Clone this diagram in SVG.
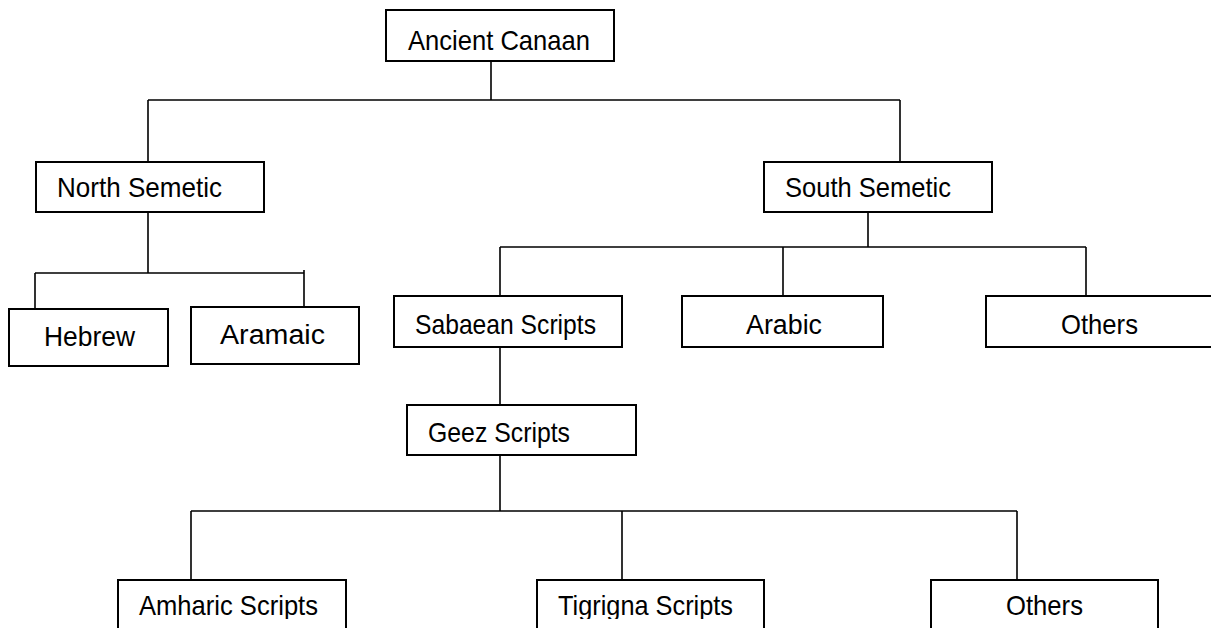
<svg xmlns="http://www.w3.org/2000/svg" width="1211" height="628" viewBox="0 0 1211 628">
  <style>
    .box { fill: #ffffff; stroke: #000000; stroke-width: 2; }
    .lbl { font-family: "Liberation Sans", Arial, sans-serif; font-size: 28px; fill: #000000; }
    .wide { font-size: 27px; }
    .conn { fill: none; stroke: #000000; stroke-width: 1.6; }
  </style>
  <defs>
    <clipPath id="clipBottom">
      <rect x="0" y="0" width="1211" height="619"/>
    </clipPath>
  </defs>
  <rect width="1211" height="628" fill="#ffffff"/>

  <!-- tree connectors -->
  <g id="connectors">
    <path class="conn" d="M491 61 V100 M148 100 H900 M148 100 V162 M900 100 V162"/>
    <path class="conn" d="M148 212 V273 M35 273 H304 M35 273 V309 M304 270 V307"/>
    <path class="conn" d="M868 212 V247 M500 247 H1086 M500 247 V296 M783 247 V296 M1086 247 V296"/>
    <path class="conn" d="M500 347 V405"/>
    <path class="conn" d="M500 455 V511 M191 511 H1017 M191 511 V580 M622 511 V580 M1017 511 V580"/>
  </g>

  <g id="ancient-canaan">
    <rect class="box" x="386" y="10" width="228" height="51"/>
    <text class="lbl" x="408" y="50" textLength="182" lengthAdjust="spacingAndGlyphs">Ancient Canaan</text>
  </g>

  <g id="north-semetic">
    <rect class="box" x="36" y="162" width="228" height="50"/>
    <text class="lbl" x="57" y="197" textLength="165" lengthAdjust="spacingAndGlyphs">North Semetic</text>
  </g>

  <g id="south-semetic">
    <rect class="box" x="764" y="162" width="228" height="50"/>
    <text class="lbl" x="785" y="197" textLength="166" lengthAdjust="spacingAndGlyphs">South Semetic</text>
  </g>

  <g id="hebrew">
    <rect class="box" x="9" y="309" width="159" height="57"/>
    <text class="lbl wide" x="44" y="346" textLength="91" lengthAdjust="spacingAndGlyphs">Hebrew</text>
  </g>

  <g id="aramaic">
    <rect class="box" x="191" y="307" width="168" height="57"/>
    <text class="lbl wide" x="220" y="344" textLength="105" lengthAdjust="spacingAndGlyphs">Aramaic</text>
  </g>

  <g id="sabaean-scripts">
    <rect class="box" x="394" y="296" width="228" height="51"/>
    <text class="lbl" x="415" y="334" textLength="181" lengthAdjust="spacingAndGlyphs">Sabaean Scripts</text>
  </g>

  <g id="arabic">
    <rect class="box" x="682" y="296" width="201" height="51"/>
    <text class="lbl wide" x="746" y="334" textLength="76" lengthAdjust="spacingAndGlyphs">Arabic</text>
  </g>

  <g id="others-south">
    <rect class="box" x="986" y="296" width="228" height="51"/>
    <text class="lbl" x="1061" y="334" textLength="77" lengthAdjust="spacingAndGlyphs">Others</text>
  </g>

  <g id="geez-scripts">
    <rect class="box" x="407" y="405" width="229" height="50"/>
    <text class="lbl" x="428" y="442" textLength="142" lengthAdjust="spacingAndGlyphs">Geez Scripts</text>
  </g>

  <g id="amharic-scripts">
    <rect class="box" x="118" y="580" width="228" height="60"/>
    <text class="lbl" x="139" y="615" textLength="179" lengthAdjust="spacingAndGlyphs" clip-path="url(#clipBottom)">Amharic Scripts</text>
  </g>

  <g id="tigrigna-scripts">
    <rect class="box" x="537" y="580" width="227" height="60"/>
    <text class="lbl" x="558" y="615" textLength="175" lengthAdjust="spacingAndGlyphs" clip-path="url(#clipBottom)">Tigrigna Scripts</text>
  </g>

  <g id="others-geez">
    <rect class="box" x="931" y="580" width="227" height="60"/>
    <text class="lbl" x="1006" y="615" textLength="77" lengthAdjust="spacingAndGlyphs" clip-path="url(#clipBottom)">Others</text>
  </g>
</svg>
